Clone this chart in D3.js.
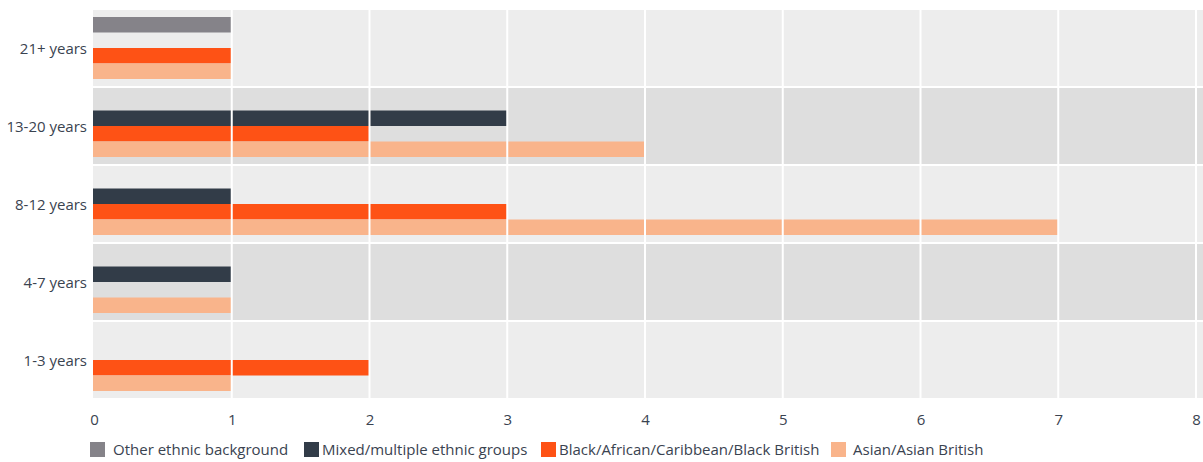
<!DOCTYPE html>
<html>
<head>
<meta charset="utf-8">
<script src="https://cdn.jsdelivr.net/npm/d3@7"></script>
<style>
  body { margin: 0; background: #fff; }
  svg text { font-family: "Open Sans", "Noto Sans", sans-serif; fill: #3a4350; }
</style>
</head>
<body>
<svg id="chart" width="1203" height="462"></svg>
<script>
// categorias (de arriba hacia abajo)
const edades = ["21+ years", "13-20 years", "8-12 years", "4-7 years", "1-3 years"];
const series = ["Other ethnic background", "Mixed/multiple ethnic groups",
    "Black/African/Caribbean/Black British", "Asian/Asian British"];
const colores = ["#858389", "#323c48", "#fe5215", "#f9b48b"];

// valores por serie, en el mismo orden que edades
const otros = [1, 0, 0, 0, 0];
const mixtos = [0, 3, 1, 1, 0];
const negros = [1, 2, 3, 0, 2];
const asiaticos = [1, 4, 7, 1, 1];
const valores = [otros, mixtos, negros, asiaticos];

const ticksX = [0, 1, 2, 3, 4, 5, 6, 7, 8];

const svg = d3.select("#chart");

const escalaX = d3.scaleLinear()
    .domain([0, 8])
    .range([94, 1196]);

const escalaGrupo = d3.scaleBand()
    .domain(edades)
    .range([10, 400]);

const escalaSerie = d3.scaleBand()
    .domain(series)
    .range([7, 69]);

const colorSerie = d3.scaleOrdinal().domain(series).range(colores);

// fondo de cada fila
svg.append("g")
    .selectAll("rect")
    .data(edades)
    .join("rect")
    .attr("x", escalaX(0) - 1)
    .attr("y", d => escalaGrupo(d))
    .attr("width", 1203 - escalaX(0) + 1)
    .attr("height", escalaGrupo.bandwidth() - 2)
    .attr("fill", (d, i) => i % 2 == 0 ? "#ededed" : "#dedede");

// barras
const datos = [];
edades.forEach((e, i) => {
    series.forEach((s, j) => {
        datos.push({ edad: e, serie: s, valor: valores[j][i] });
    });
});

svg.append("g")
    .selectAll("rect")
    .data(datos.filter(d => d.valor > 0))
    .join("rect")
    .attr("x", escalaX(0) - 1)
    .attr("y", d => escalaGrupo(d.edad) + escalaSerie(d.serie))
    .attr("width", d => escalaX(d.valor) - escalaX(0) + 1)
    .attr("height", escalaSerie.bandwidth())
    .attr("fill", d => colorSerie(d.serie));

// lineas de la grilla encima de las barras
svg.append("g")
    .selectAll("line")
    .data(ticksX.filter(t => t > 0))
    .join("line")
    .attr("x1", d => escalaX(d))
    .attr("x2", d => escalaX(d))
    .attr("y1", 10)
    .attr("y2", 398)
    .attr("stroke", "#fff")
    .attr("stroke-width", 2);

// eje x
const ejeX = d3.axisBottom(escalaX).tickValues(ticksX).tickSize(0).tickPadding(0);
svg.append("g")
    .attr("transform", "translate(0, 410)")
    .call(ejeX)
    .call(g => g.select(".domain").remove())
    .selectAll("text")
    .attr("dy", "1em")
    .style("font-size", "15px");

// eje y
const ejeY = d3.axisLeft(escalaGrupo).tickSize(0).tickPadding(7);
svg.append("g")
    .attr("transform", `translate(${escalaX(0)}, 0)`)
    .call(ejeY)
    .call(g => g.select(".domain").remove())
    .selectAll("text")
    .style("font-size", "15px");

// leyenda
const posLeyenda = [90, 304, 541, 831];
const leyenda = svg.append("g")
    .selectAll("g")
    .data(series)
    .join("g")
    .attr("transform", (d, i) => `translate(${posLeyenda[i]}, 442)`);
leyenda.append("rect")
    .attr("width", 15)
    .attr("height", 15)
    .attr("fill", d => colorSerie(d));
leyenda.append("text")
    .attr("x", (d, i) => i == 0 ? 23 : (i == 3 ? 22 : 18))
    .attr("y", 13)
    .style("font-size", "15px")
    .text(d => d);
</script>
</body>
</html>
